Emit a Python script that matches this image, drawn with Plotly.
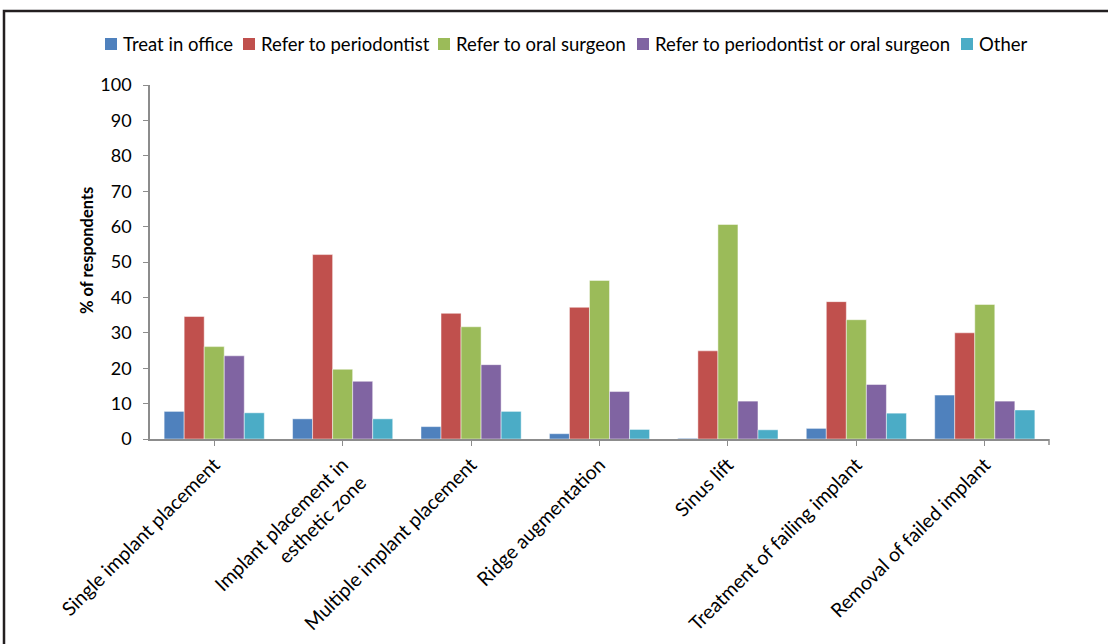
import plotly.graph_objects as go

categories = [
    "Single implant placement",
    "Implant placement in<br>esthetic zone",
    "Multiple implant placement",
    "Ridge augmentation",
    "Sinus lift",
    "Treatment of failing implant",
    "Removal of failed implant",
]

treat_in_office = [7.8, 5.7, 3.5, 1.5, 0.2, 3.0, 12.4]
refer_periodontist = [34.6, 52.1, 35.5, 37.2, 24.9, 38.8, 30.0]
refer_oral_surgeon = [26.1, 19.7, 31.7, 44.8, 60.6, 33.7, 38.0]
refer_perio_or_surgeon = [23.5, 16.3, 21.0, 13.4, 10.7, 15.4, 10.7]
other = [7.4, 5.7, 7.8, 2.7, 2.6, 7.3, 8.2]

series_names = [
    "Treat in office",
    "Refer to periodontist",
    "Refer to oral surgeon",
    "Refer to periodontist or oral surgeon",
    "Other",
]
series_values = [treat_in_office, refer_periodontist, refer_oral_surgeon,
                 refer_perio_or_surgeon, other]
series_colors = ["#4F81BD", "#C0504D", "#9BBB59", "#8064A2", "#4BACC6"]

y_title = "% of respondents"

# legend key positions (left edge of each swatch, in pixels)
legend_x = [105, 243, 438, 637, 961]
legend_y = 44

FONT = "Lato, 'Open Sans', sans-serif"

L, R, T, B = 150, 59, 85, 205
W, H = 1108, 644
pw, ph = W - L - R, H - T - B


def px_x(p):
    return (p - L) / pw


def px_y(p):
    return (H - B - p) / ph


fig = go.Figure()
for name, vals, color in zip(series_names, series_values, series_colors):
    fig.add_trace(go.Bar(
        x=categories, y=vals, name=name, showlegend=False,
        marker=dict(color=color, line=dict(color="rgba(255,255,255,0.6)", width=0.8)),
    ))

shapes = [
    # outer frame around the figure
    dict(type="rect", xref="paper", yref="paper",
         x0=px_x(4), x1=1.2, y0=-1.0, y1=px_y(11),
         line=dict(color="#231f20", width=2.5), fillcolor="rgba(0,0,0,0)", layer="below"),
    # closing tick at the end of the category axis
    dict(type="line", xref="paper", yref="paper", x0=1, x1=1, y0=0, y1=-6 / ph,
         line=dict(color="#8c8c8c", width=1.5)),
]
annotations = [
    dict(xref="paper", yref="paper", x=px_x(87), y=px_y(251), textangle=-90,
         xanchor="center", yanchor="middle", showarrow=False,
         text="<b>" + y_title + "</b>", font=dict(size=16.5, color="black")),
]
sq = 12
for name, color, lx in zip(series_names, series_colors, legend_x):
    shapes.append(dict(type="rect", xref="paper", yref="paper",
                       x0=px_x(lx), x1=px_x(lx + sq),
                       y0=px_y(legend_y + sq / 2), y1=px_y(legend_y - sq / 2),
                       line=dict(width=0), fillcolor=color))
    annotations.append(dict(xref="paper", yref="paper", x=px_x(lx + sq + 4), y=px_y(legend_y),
                            xanchor="left", yanchor="middle", showarrow=False,
                            text=name, font=dict(size=18.5, color="black")))

fig.update_layout(
    width=W, height=H,
    margin=dict(l=L, r=R, t=T, b=B),
    paper_bgcolor="white", plot_bgcolor="white",
    barmode="group", bargap=0.22, bargroupgap=0,
    font=dict(family=FONT, size=17, color="black"),
    showlegend=False,
    xaxis=dict(
        type="category", showgrid=False, showline=True, linecolor="#8c8c8c", linewidth=1.5,
        ticks="outside", ticklen=5, tickcolor="#8c8c8c", tickangle=-45,
        tickfont=dict(size=19.5), zeroline=False, automargin=False,
    ),
    yaxis=dict(
        range=[0, 100], dtick=10, showgrid=False, showline=True, linecolor="#8c8c8c",
        linewidth=1.5, ticks="outside", ticklen=5, tickcolor="#8c8c8c",
        tickfont=dict(size=18), zeroline=False, automargin=False,
        ticklabelstandoff=8,
    ),
    shapes=shapes,
    annotations=annotations,
)

fig.write_html("out.html")
